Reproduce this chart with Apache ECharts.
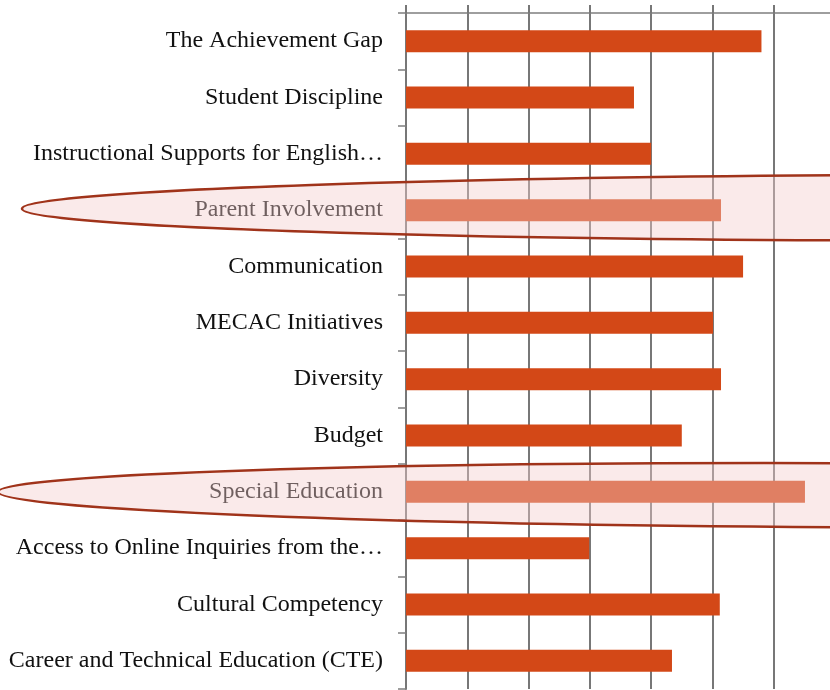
<!DOCTYPE html>
<html>
<head>
<meta charset="utf-8">
<script src="https://cdn.jsdelivr.net/npm/echarts@6/dist/echarts.min.js"></script>
<style>
  html, body { margin: 0; padding: 0; background: #fff; overflow: hidden; width: 830px; height: 690px; }
  /* the plot runs a little past the right edge of the picture */
  #main { width: 835px; height: 690px; }
</style>
</head>
<body>
<div id="main"></div>
<script>
// categories, top to bottom
var categories = [
  'The Achievement Gap',
  'Student Discipline',
  'Instructional Supports for English\u2026',
  'Parent Involvement',
  'Communication',
  'MECAC Initiatives',
  'Diversity',
  'Budget',
  'Special Education',
  'Access to Online Inquiries from the\u2026',
  'Cultural Competency',
  'Career and Technical Education (CTE)'
];
// bar values (grid step = 1)
var values = [5.8, 3.72, 4.0, 5.14, 5.5, 5.01, 5.14, 4.5, 6.51, 2.99, 5.12, 4.34];
// categories that are circled
var highlighted = ['Parent Involvement', 'Special Education'];

var myChart = echarts.init(document.getElementById('main'));

var lineGray = { color: '#777', width: 2 };

var option = {
  animation: false,
  grid: { left: 406, right: 0, top: 13, bottom: 1, containLabel: false },
  xAxis: {
    type: 'value',
    position: 'top',
    min: 0,
    max: 7,
    interval: 1,
    axisLine: { show: true, lineStyle: { color: '#7f7f7f', width: 1.5 } },
    axisTick: { show: true, length: 8, lineStyle: lineGray },
    axisLabel: { show: false },
    splitLine: { show: true, lineStyle: lineGray }
  },
  yAxis: {
    type: 'category',
    data: categories,
    inverse: true,
    axisLine: { show: true, lineStyle: lineGray },
    axisTick: { show: true, length: 8, lineStyle: { color: '#7f7f7f', width: 1.5 } },
    axisLabel: {
      margin: 23,
      fontFamily: 'Liberation Serif',
      fontSize: 24,
      color: '#111'
    },
    splitLine: { show: false }
  },
  series: [{
    type: 'bar',
    data: values,
    barWidth: 22,
    itemStyle: { color: '#d34817' }
  }]
};
myChart.setOption(option);

// highlight ellipses, placed from the category positions
var ellipseShapes = [
  { left: 22, rx: 988, ry: 33, dy: -2.5, rot: 0.001 },
  { left: -2, rx: 870, ry: 32, dy: 3.5, rot: -0.004 }
];
var graphics = highlighted.map(function (name, i) {
  var s = ellipseShapes[i];
  var cy = myChart.convertToPixel({ yAxisIndex: 0 }, name) + s.dy;
  var cx = s.left + s.rx;
  return {
    type: 'ellipse',
    z: 100,
    originX: cx,
    originY: cy,
    rotation: s.rot,
    shape: { cx: cx, cy: cy, rx: s.rx, ry: s.ry },
    style: {
      fill: 'rgba(243,206,204,0.42)',
      stroke: '#a0331a',
      lineWidth: 2.5
    }
  };
});
myChart.setOption({ graphic: graphics });
</script>
</body>
</html>
